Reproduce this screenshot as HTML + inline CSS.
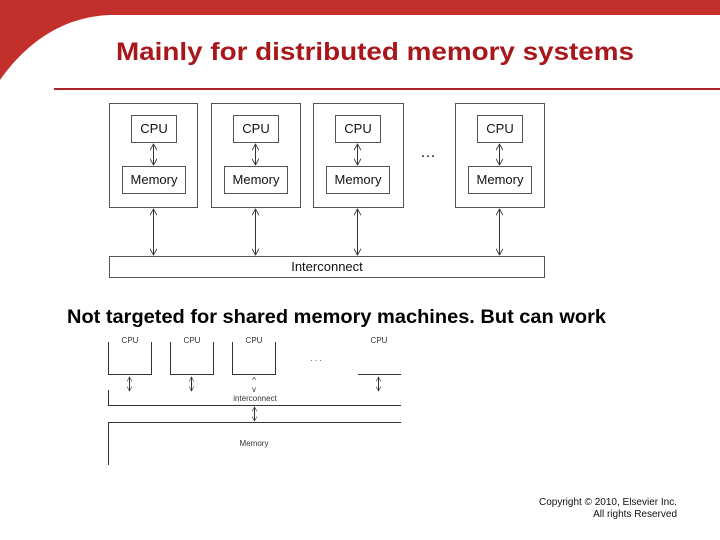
<!DOCTYPE html>
<html><head><meta charset="utf-8"><style>
body{margin:0;width:720px;height:540px;background:#fff;overflow:hidden;position:relative;font-family:"Liberation Sans",sans-serif}
</style></head><body>
<svg width="720" height="540" style="position:absolute;left:0;top:0" font-family="Liberation Sans, sans-serif">
<defs>
<marker id="a" viewBox="0 0 10 10" refX="9" refY="5" markerWidth="7" markerHeight="7" orient="auto-start-reverse" markerUnits="userSpaceOnUse"><path d="M0,0 L9,5 L0,10" fill="none" stroke="#333" stroke-width="1.2"/></marker>
<marker id="b" viewBox="0 0 10 10" refX="9" refY="5" markerWidth="5" markerHeight="5" orient="auto-start-reverse" markerUnits="userSpaceOnUse"><path d="M0,0 L9,5 L0,10" fill="none" stroke="#333" stroke-width="1.2"/></marker>
</defs>
<path d="M0,0 H720 V15 H110 C60,17 25,45 0,80 Z" fill="#c3302c"/>
<text x="116" y="60" font-size="25" font-weight="bold" fill="#a8171b" textLength="518" lengthAdjust="spacingAndGlyphs">Mainly for distributed memory systems</text>
<line x1="54" y1="89" x2="720" y2="89" stroke="#a8242a" stroke-width="2"/>
<g stroke="#555" stroke-width="1" fill="none">
<rect x="109.5" y="103.5" width="88" height="104"/>
<rect x="211.5" y="103.5" width="89" height="104"/>
<rect x="313.5" y="103.5" width="90" height="104"/>
<rect x="455.5" y="103.5" width="89" height="104"/>
<rect x="109.5" y="256.5" width="435" height="21"/>
</g>
<g fill="none" stroke="#555">
<rect x="131.5" y="115.5" width="45" height="27"/><rect x="122.5" y="166.5" width="63" height="27"/>
<rect x="233.5" y="115.5" width="45" height="27"/><rect x="224.5" y="166.5" width="63" height="27"/>
<rect x="335.5" y="115.5" width="45" height="27"/><rect x="326.5" y="166.5" width="63" height="27"/>
<rect x="477.5" y="115.5" width="45" height="27"/><rect x="468.5" y="166.5" width="63" height="27"/>
</g>
<g stroke="#333" stroke-width="1" marker-start="url(#a)" marker-end="url(#a)">
<line x1="153.5" y1="144" x2="153.5" y2="165"/><line x1="255.5" y1="144" x2="255.5" y2="165"/><line x1="357.5" y1="144" x2="357.5" y2="165"/><line x1="499.5" y1="144" x2="499.5" y2="165"/>
<line x1="153.5" y1="209" x2="153.5" y2="255"/><line x1="255.5" y1="209" x2="255.5" y2="255"/><line x1="357.5" y1="209" x2="357.5" y2="255"/><line x1="499.5" y1="209" x2="499.5" y2="255"/>
</g>
<g font-size="13" fill="#111" text-anchor="middle">
<text x="154" y="133">CPU</text><text x="256" y="133">CPU</text><text x="358" y="133">CPU</text><text x="500" y="133">CPU</text>
<text x="154" y="184">Memory</text><text x="256" y="184">Memory</text><text x="358" y="184">Memory</text><text x="500" y="184">Memory</text>
<text x="327" y="271">Interconnect</text>
<text x="428" y="157" font-size="16">…</text>
</g>
<text x="67" y="323" font-size="19" font-weight="bold" fill="#000" textLength="539" lengthAdjust="spacingAndGlyphs">Not targeted for shared memory machines. But can work</text>
<g stroke="#333" stroke-width="1" fill="none">
<path d="M108.5,342 V374.5 H151.5 V342"/>
<path d="M170.5,342 V374.5 H213.5 V342"/>
<path d="M232.5,342 V374.5 H275.5 V342"/>
<path d="M358,374.5 H401"/>
<path d="M108.5,390 V405.5 H401"/>
<path d="M401,422.5 H108.5 V465"/>
</g>
<g stroke="#333" stroke-width="1" marker-start="url(#b)" marker-end="url(#b)">
<line x1="129.5" y1="377" x2="129.5" y2="391"/><line x1="191.5" y1="377" x2="191.5" y2="391"/><line x1="378.5" y1="377" x2="378.5" y2="391"/><line x1="254.5" y1="407" x2="254.5" y2="421"/>
</g>
<g font-size="8" fill="#333" text-anchor="middle">
<text x="130" y="343">CPU</text><text x="192" y="343">CPU</text><text x="254" y="343">CPU</text><text x="379" y="343">CPU</text>
<text x="254" y="383">^</text><text x="254" y="392">v</text>
<text x="255" y="401">interconnect</text><text x="254" y="446">Memory</text>
<text x="316" y="361">. . .</text>
</g>
<g font-size="10" fill="#111" text-anchor="end">
<text x="677" y="505">Copyright © 2010, Elsevier Inc.</text>
<text x="677" y="517">All rights Reserved</text>
</g>
</svg>
</body></html>
